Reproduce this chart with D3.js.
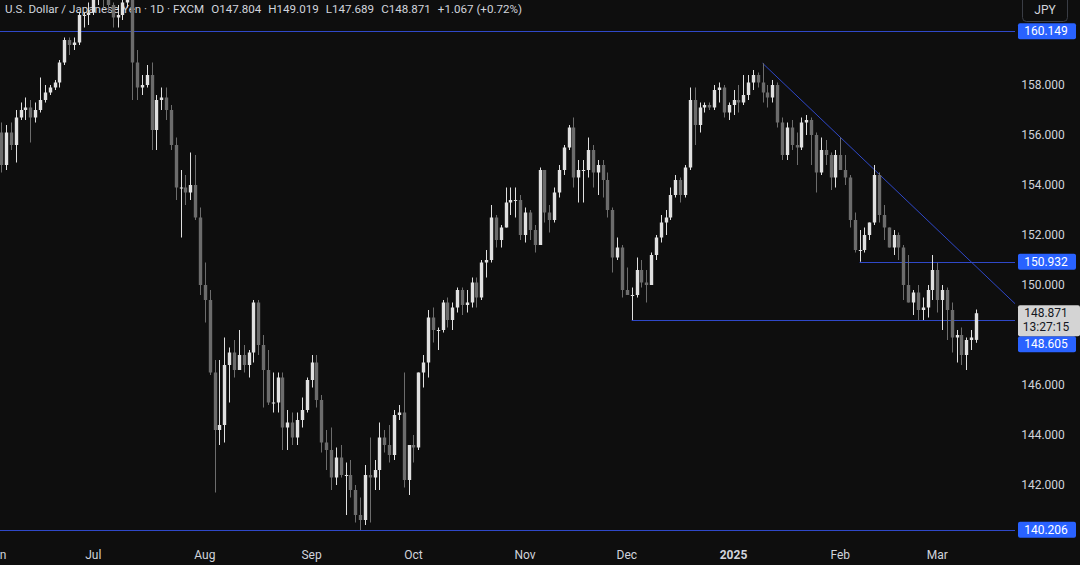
<!DOCTYPE html>
<html>
<head>
<meta charset="utf-8">
<script src="https://cdn.jsdelivr.net/npm/d3@7"></script>
<style>
  html, body { margin: 0; padding: 0; background: #0e0e0e; }
  svg { display: block; }
</style>
</head>
<body>
<div id="chart"></div>
<script>
// USD/JPY daily candles, Jun 3 2024 .. Mar 13 2025 (weekdays, Jan 1 skipped)
const firstDay = "2024-06-03";
const skipDays = ["2025-01-01"];

// [open, high, low, close]
const ohlc = [
  [157.2,157.4,156.1,156.1],[156.1,156.5,154.5,154.8],[154.8,156.4,154.6,156.1],[156.1,156.5,155.4,155.6],[155.6,157.0,154.9,156.7],
  [156.7,157.3,156.6,157.0],[157.0,157.5,156.6,157.1],[157.1,157.4,155.7,156.7],[156.7,157.3,156.5,157.0],[157.0,158.3,156.9,157.4],
  [157.4,158.0,157.3,157.7],[157.7,158.0,157.6,157.9],[157.9,158.2,157.8,158.1],[158.1,159.0,157.9,158.9],[158.9,159.9,158.8,159.8],
  [159.8,159.9,159.2,159.6],[159.6,159.9,159.4,159.7],[159.7,160.9,159.6,160.8],[160.8,160.9,160.3,160.8],[160.8,161.3,160.4,160.9],
  [160.9,161.7,160.8,161.5],[161.5,161.8,161.2,161.5],[161.5,162.0,161.1,161.4],[161.4,161.6,160.9,161.2],[161.2,161.3,160.3,160.7],
  [160.7,161.2,160.3,160.8],[160.8,161.4,160.6,161.3],[161.3,161.8,161.1,161.6],[161.6,161.8,157.4,158.9],[158.9,159.4,157.4,157.9],
  [157.9,158.4,157.6,158.0],[158.0,158.8,157.9,158.4],[158.4,158.9,155.4,156.2],[156.2,157.6,155.4,157.4],[157.4,157.9,157.0,157.5],
  [157.5,157.9,156.6,157.0],[157.0,157.2,155.4,155.6],[155.6,155.9,153.4,153.9],[153.9,154.6,151.9,153.9],[153.9,154.4,153.2,153.7],
  [153.7,155.3,153.4,154.0],[154.0,155.2,152.6,152.7],[152.7,153.1,149.6,150.0],[150.0,150.9,148.5,149.4],[149.4,149.8,146.4,146.5],
  [146.5,147.0,141.7,144.2],[144.2,147.0,143.6,144.4],[144.4,147.9,143.7,146.8],[146.8,147.5,145.3,147.3],[147.3,147.8,146.3,146.6],
  [146.6,148.2,146.6,147.2],[147.2,147.6,146.5,146.8],[146.8,147.4,146.3,147.3],[147.3,149.4,146.9,149.3],[149.3,149.4,147.2,147.6],
  [147.6,148.0,145.1,146.6],[146.6,147.4,145.2,145.3],[145.3,146.5,144.9,145.3],[145.3,146.5,144.9,146.3],[146.3,146.5,143.4,144.3],
  [144.3,145.0,143.4,144.5],[144.5,144.9,143.6,143.9],[143.9,144.9,143.6,144.6],[144.6,145.5,144.3,145.0],[145.0,146.3,144.9,146.2],
  [146.2,147.2,145.9,146.9],[146.9,147.2,145.1,145.4],[145.4,145.6,143.3,143.7],[143.7,144.2,142.6,143.4],[143.4,144.3,141.8,142.3],
  [142.3,143.5,142.0,143.1],[143.1,143.6,142.3,142.4],[142.4,142.9,140.8,142.4],[142.4,143.0,141.5,141.8],[141.8,142.0,140.5,140.8],
  [140.8,141.5,140.2,140.6],[140.6,142.8,140.4,142.4],[142.4,143.9,140.5,142.3],[142.3,143.0,141.8,142.6],[142.6,144.5,141.8,143.9],
  [143.9,144.2,143.3,143.6],[143.6,144.4,142.9,143.2],[143.2,145.0,143.0,144.8],[144.8,145.2,144.6,144.9],[144.9,146.5,141.9,142.2],
  [142.2,143.6,141.6,143.6],[143.6,144.0,142.9,143.5],[143.5,146.5,143.4,146.5],[146.5,147.2,145.9,146.9],[146.9,149.0,146.3,148.7],
  [148.7,149.1,147.7,148.2],[148.2,148.3,147.4,148.2],[148.2,149.4,148.1,149.3],[149.3,149.5,148.3,148.6],[148.6,149.3,148.2,149.1],
  [149.1,149.9,148.9,149.8],[149.8,149.9,148.8,149.2],[149.2,149.8,148.9,149.3],[149.3,150.3,149.1,150.1],[150.1,150.3,149.1,149.5],
  [149.5,151.0,149.4,150.9],[150.9,151.4,150.3,151.0],[151.0,153.2,150.9,152.7],[152.7,152.8,151.5,151.8],[151.8,152.4,151.5,152.3],
  [152.3,153.9,152.3,153.3],[153.3,153.9,152.8,153.4],[153.4,153.9,152.7,153.4],[153.4,153.6,151.8,152.0],[152.0,153.1,151.7,152.9],
  [152.9,153.0,151.8,152.2],[152.2,152.4,151.3,151.6],[151.6,154.7,151.6,154.6],[154.6,154.6,152.5,152.9],[152.9,153.2,152.1,152.6],
  [152.6,153.9,152.5,153.7],[153.7,154.8,153.5,154.6],[154.6,155.6,154.4,155.5],[155.5,156.4,155.4,156.3],[156.3,156.7,153.9,154.3],
  [154.3,155.0,153.3,154.6],[154.6,155.0,153.3,154.6],[154.6,155.9,154.3,155.4],[155.4,155.6,153.9,154.5],[154.5,155.0,153.6,154.8],
  [154.8,155.0,153.5,154.2],[154.2,154.5,152.7,153.0],[153.0,153.1,150.5,151.1],[151.1,151.9,151.0,151.5],[151.5,151.6,149.5,149.8],
  [149.8,150.7,149.6,149.6],[149.6,149.9,148.6,149.6],[149.6,151.1,149.5,150.6],[150.6,151.0,149.9,150.1],[150.1,150.6,149.3,150.0],
  [150.0,151.3,150.0,151.2],[151.2,152.0,151.0,151.9],[151.9,152.8,151.7,152.5],[152.5,153.0,152.0,152.7],[152.7,153.9,152.6,153.6],
  [153.6,154.4,153.5,154.2],[154.2,154.3,153.3,153.6],[153.6,154.8,153.5,154.7],[154.7,157.9,154.6,157.4],[157.4,157.9,155.6,156.4],
  [156.4,157.3,156.1,157.1],[157.1,157.3,156.9,157.2],[157.2,157.3,157.0,157.1],[157.1,158.0,157.0,157.8],[157.8,158.1,157.3,157.9],
  [157.9,158.0,156.7,156.9],[156.9,157.3,156.6,157.2],
  [157.2,157.8,156.8,157.4],[157.4,158.0,156.9,157.3],[157.3,158.4,157.2,157.6],[157.6,158.4,157.4,158.1],[158.1,158.6,157.8,158.4],
  [158.4,158.5,157.9,158.1],[158.1,158.87,157.3,157.7],[157.7,158.0,157.1,157.5],[157.5,158.2,157.3,158.0],[158.0,158.1,156.3,156.5],
  [156.5,156.7,155.0,155.2],[155.2,156.5,155.0,156.3],[156.3,156.6,155.4,155.6],[155.6,156.1,154.8,155.5],[155.5,156.7,155.4,156.5],
  [156.5,156.8,156.0,156.6],[156.6,156.7,154.8,156.0],[156.0,156.1,153.7,154.5],[154.5,155.9,154.4,155.4],[155.4,155.8,154.8,155.2],
  [155.2,155.3,153.8,154.3],[154.3,155.4,153.9,155.2],
  [155.2,155.9,154.6,154.6],[154.6,155.2,154.0,154.3],[154.3,154.4,152.3,152.6],[152.6,152.9,151.3,151.4],[151.4,152.2,150.93,151.4],
  [151.4,152.3,151.3,152.0],[152.0,152.5,151.8,152.5],[152.5,154.8,152.4,154.4],[154.4,154.5,152.5,152.8],[152.8,153.2,151.8,152.3],
  [152.3,152.3,151.5,151.5],[151.5,152.2,151.2,152.0],[152.0,152.1,151.0,151.5],[151.5,151.6,149.4,150.0],[150.0,151.2,149.3,149.3],
  [149.3,149.8,148.8,149.7],[149.7,150.0,148.6,149.0],[149.0,149.5,148.6,149.1],[149.1,150.0,148.7,149.8],[149.8,151.2,149.4,150.6],
  [150.6,150.9,148.9,149.4],[149.4,150.0,148.2,149.8],[149.8,149.9,147.8,149.0],[149.0,149.3,147.3,147.9],[147.9,148.2,146.9,148.0],
  [148.0,148.3,146.8,147.2],[147.2,147.9,146.6,147.8],[147.8,148.2,147.4,147.9],[147.804,149.019,147.689,148.871]
];

const yTicks = [142, 144, 146, 150, 152, 154, 156, 158];
const fullLevels = [160.149, 140.206];            // lines across the whole chart
const rayLevels = [                               // rays from a bar to the right edge
  { from: 131, price: 148.605 },
  { from: 178, price: 150.932 }
];
const trendPts = [{ i: 158, p: 158.87 }, { i: 181, p: 154.62 }];
const lastBar = { o: 147.804, h: 149.019, l: 147.689, c: 148.871, chg: 1.067, pct: 0.72, timer: "13:27:15" };

const W = 1080, H = 565;
const plotW = 1015, plotH = 540;
const bg = "#0e0e0e", upCol = "#e0e0e0", downCol = "#6c6c6c", txtCol = "#d1d4dc", lineCol = "#2f48c8";
const font = "Roboto, 'Noto Sans', sans-serif";

// trading dates
const dates = [];
{
  let d = new Date(firstDay + "T00:00:00Z");
  while (dates.length < ohlc.length) {
    const wd = d.getUTCDay();
    const iso = d.toISOString().slice(0, 10);
    if (wd !== 0 && wd !== 6 && !skipDays.includes(iso)) dates.push(new Date(d));
    d.setUTCDate(d.getUTCDate() + 1);
  }
}
const bars = ohlc.map((v, i) => ({ i, date: dates[i], o: v[0], h: v[1], l: v[2], c: v[3] }));

const x = d3.scaleLinear().domain([0.76, 210.04]).range([0, plotW]);
const y = d3.scaleLinear().domain([140, 160]).range([535, 35]);
const step = x(1) - x(0);

const svg = d3.select("#chart").append("svg")
  .attr("width", W).attr("height", H)
  .style("font-family", font);

svg.append("rect").attr("width", W).attr("height", H).attr("fill", bg);

svg.append("defs").append("clipPath").attr("id", "plot")
  .append("rect").attr("width", plotW).attr("height", plotH);

// legend text (drawn under the candles, as in the picture)
const legend = svg.append("text").attr("x", 5).attr("y", 13)
  .attr("fill", txtCol).attr("font-size", 11.6);
legend.append("tspan").text("U.S. Dollar / Japanese Yen · 1D · FXCM");
[["O", lastBar.o], ["H", lastBar.h], ["L", lastBar.l], ["C", lastBar.c]].forEach(([k, v]) => {
  legend.append("tspan").attr("dx", 7).text(k);
  legend.append("tspan").text(v.toFixed(3));
});
legend.append("tspan").attr("dx", 7)
  .text(`+${lastBar.chg.toFixed(3)} (+${lastBar.pct.toFixed(2)}%)`);

const plot = svg.append("g").attr("clip-path", "url(#plot)");

// level lines
plot.selectAll("line.full").data(fullLevels).join("line")
  .attr("x1", 0).attr("x2", plotW)
  .attr("y1", d => Math.round(y(d)) + 0.5).attr("y2", d => Math.round(y(d)) + 0.5)
  .attr("stroke", lineCol).attr("stroke-width", 1);

plot.selectAll("line.ray").data(rayLevels).join("line")
  .attr("x1", d => x(d.from)).attr("x2", plotW)
  .attr("y1", d => Math.round(y(d.price)) + 0.5).attr("y2", d => Math.round(y(d.price)) + 0.5)
  .attr("stroke", lineCol).attr("stroke-width", 1);

// trend line, extended to the right edge
{
  const [a, b] = trendPts;
  const slope = (b.p - a.p) / (b.i - a.i);
  const iEnd = x.invert(plotW);
  plot.append("line")
    .attr("x1", x(a.i)).attr("y1", y(a.p))
    .attr("x2", x(iEnd)).attr("y2", y(a.p + slope * (iEnd - a.i)))
    .attr("stroke", lineCol).attr("stroke-width", 1);
}

// candles
const candle = plot.append("g").selectAll("g").data(bars).join("g")
  .attr("fill", d => d.c >= d.o ? upCol : downCol)
  .attr("stroke", d => d.c >= d.o ? upCol : downCol);

candle.append("line")
  .attr("x1", d => Math.round(x(d.i)) + 0.5).attr("x2", d => Math.round(x(d.i)) + 0.5)
  .attr("y1", d => y(d.h)).attr("y2", d => y(d.l))
  .attr("stroke-width", 1);

const bw = Math.max(1, step * 0.7);
candle.append("rect")
  .attr("x", d => Math.round(x(d.i)) + 0.5 - bw / 2)
  .attr("width", bw)
  .attr("y", d => y(Math.max(d.o, d.c)))
  .attr("height", d => Math.max(1, Math.abs(y(d.o) - y(d.c))))
  .attr("stroke", "none");

// right price scale
const axisG = svg.append("g");
axisG.selectAll("text.tick").data(yTicks).join("text")
  .attr("x", 1043).attr("y", d => y(d)).attr("dy", "0.35em")
  .attr("text-anchor", "middle").attr("fill", txtCol).attr("font-size", 12)
  .text(d => d3.format(".3f")(d));

// blue level labels
const labelFor = (price, yc) => {
  axisG.append("rect").attr("x", 1018).attr("y", yc - 8).attr("width", 58).attr("height", 16)
    .attr("rx", 2).attr("fill", "#2962ff");
  axisG.append("text").attr("x", 1046).attr("y", yc).attr("dy", "0.35em")
    .attr("text-anchor", "middle").attr("fill", "#ffffff").attr("font-size", 12)
    .text(price.toFixed(3));
};
labelFor(160.149, y(160.149));
labelFor(150.932, y(150.932));
labelFor(140.206, y(140.206));
// 148.605 is pushed below the last-price box
const lastY = y(lastBar.c);
const boxTop = lastY - 8, boxH = 31;
labelFor(148.605, boxTop + boxH + 8);

// last price + countdown
axisG.append("rect").attr("x", 1018).attr("y", boxTop).attr("width", 62).attr("height", boxH)
  .attr("rx", 2).attr("fill", "#d4d4d4");
axisG.append("text").attr("x", 1046).attr("y", boxTop + 8).attr("dy", "0.35em")
  .attr("text-anchor", "middle").attr("fill", "#131722").attr("font-size", 12)
  .text(lastBar.c.toFixed(3));
axisG.append("text").attr("x", 1046).attr("y", boxTop + 22).attr("dy", "0.35em")
  .attr("text-anchor", "middle").attr("fill", "#131722").attr("font-size", 12)
  .text(lastBar.timer);

// currency button
svg.append("rect").attr("x", 1022.5).attr("y", -4.5).attr("width", 45).attr("height", 26)
  .attr("rx", 4).attr("fill", bg).attr("stroke", "#3a3d45");
svg.append("text").attr("x", 1045).attr("y", 10).attr("dy", "0.3em")
  .attr("text-anchor", "middle").attr("fill", txtCol).attr("font-size", 12).text("JPY");

// time scale: first bar of each month
const monthStarts = bars.filter((d, i) => i === 0 || d.date.getUTCMonth() !== bars[i - 1].date.getUTCMonth());
const fmtMonth = d3.utcFormat("%b");
svg.append("g").selectAll("text").data(monthStarts).join("text")
  .attr("x", d => x(d.i)).attr("y", 555).attr("dy", "0.35em")
  .attr("text-anchor", "middle").attr("fill", txtCol).attr("font-size", 12)
  .attr("font-weight", d => d.date.getUTCMonth() === 0 ? "bold" : null)
  .text(d => d.date.getUTCMonth() === 0 ? d.date.getUTCFullYear() : fmtMonth(d.date));
</script>
</body>
</html>
